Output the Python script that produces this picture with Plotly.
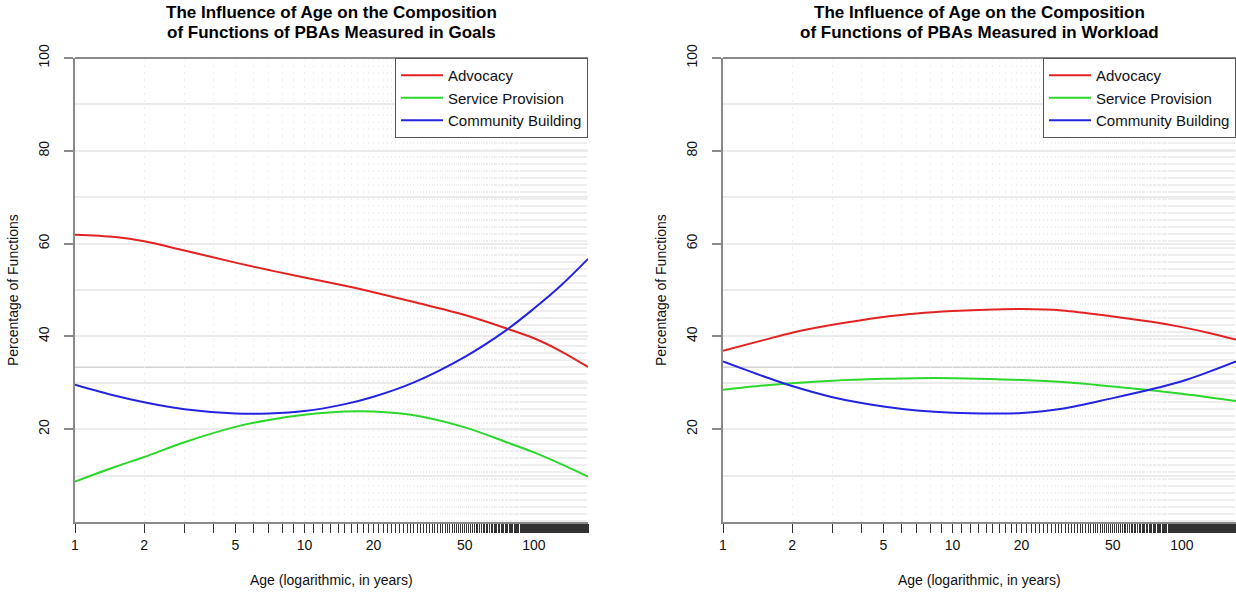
import math
import plotly.graph_objects as go

# ---- data ----
ages = [1, 1.5, 2, 3, 5, 7, 10, 15, 20, 30, 50, 75, 100, 130, 172]

goals_advocacy = [61.9, 61.4, 60.5, 58.5, 55.9, 54.3, 52.7, 50.9, 49.5, 47.4, 44.6, 41.8, 39.6, 36.9, 33.4]
goals_service = [8.7, 11.9, 14.0, 17.2, 20.5, 22.0, 23.1, 23.8, 23.8, 23.0, 20.4, 17.3, 15.0, 12.6, 9.8]
goals_community = [29.6, 27.2, 25.8, 24.3, 23.4, 23.4, 23.9, 25.4, 27.0, 30.1, 35.6, 41.2, 46.0, 50.8, 56.7]

work_advocacy = [36.9, 39.2, 40.8, 42.5, 44.2, 44.95, 45.45, 45.8, 45.9, 45.6, 44.3, 43.1, 42.0, 40.8, 39.3]
work_service = [28.5, 29.4, 29.9, 30.45, 30.85, 31.0, 31.0, 30.8, 30.6, 30.15, 29.2, 28.35, 27.65, 26.9, 26.1]
work_community = [34.6, 31.4, 29.3, 26.9, 24.9, 24.05, 23.55, 23.4, 23.5, 24.4, 26.7, 28.7, 30.35, 32.3, 34.6]

series_names = ["Advocacy", "Service Provision", "Community Building"]
series_colors = ["#e32222", "#2cd82c", "#2424e0"]

titles = [
    ["The Influence of Age on the Composition", "of Functions of PBAs Measured in Goals"],
    ["The Influence of Age on the Composition", "of Functions of PBAs Measured in Workload"],
]
x_title = "Age (logarithmic, in years)"
y_title = "Percentage of Functions"

age_max = 172
x_tick_positions = list(range(1, age_max + 1))
x_tick_labels = [1, 2, 5, 10, 20, 50, 100]
y_tick_labels = [20, 40, 60, 80, 100]
y_minor_grid = [10, 30, 50, 70, 90]
parity_level = 100 / 3

# ---- layout geometry (pixels) ----
W, H = 1236, 592
panels = [(75, 588), (723, 1236)]
top_px, bottom_px = 58, 522

FONT = "Liberation Sans, Arial, Helvetica, sans-serif"

fig = go.Figure()

panel_data = [
    [goals_advocacy, goals_service, goals_community],
    [work_advocacy, work_service, work_community],
]

for p, data in enumerate(panel_data):
    xa = "x" if p == 0 else "x2"
    ya = "y" if p == 0 else "y2"
    lg = "legend" if p == 0 else "legend2"
    for name, color, vals in zip(series_names, series_colors, data):
        fig.add_trace(go.Scatter(
            x=ages, y=vals, mode="lines", name=name,
            line=dict(color=color, width=2, shape="spline", smoothing=1.0),
            xaxis=xa, yaxis=ya, legend=lg, hoverinfo="x+y+name",
        ))

x_text = [str(v) if v in x_tick_labels else "" for v in x_tick_positions]

def xaxis_cfg(p):
    l, r = panels[p]
    return dict(
        domain=[l / W, r / W], type="log", range=[0, math.log10(age_max)],
        tickmode="array", tickvals=x_tick_positions, ticktext=x_text,
        ticks="outside", ticklen=9, tickwidth=1, tickcolor="#333333",
        showline=True, linecolor="#8a8a8a", linewidth=2,
        showgrid=True, gridcolor="#eeeeee", gridwidth=1, griddash="2px,5px",
        tickfont=dict(family=FONT, size=14, color="#111111"),
        zeroline=False, automargin=False, anchor="y" if p == 0 else "y2",
    )

def yaxis_cfg(p):
    return dict(
        domain=[1 - bottom_px / H, 1 - top_px / H], range=[0, 100],
        tickmode="array", tickvals=y_tick_labels, ticktext=[str(v) for v in y_tick_labels],
        ticks="outside", ticklen=9, tickwidth=2, tickcolor="#8a8a8a",
        showline=True, linecolor="#8a8a8a", linewidth=2, tickangle=-90,
        ticklabelstandoff=9,
        showgrid=True, gridcolor="#ebebeb", gridwidth=1.5,
        minor=dict(tickmode="array", tickvals=y_minor_grid, showgrid=True,
                   gridcolor="#ebebeb", gridwidth=1.5, ticks=""),
        tickfont=dict(family=FONT, size=14, color="#111111"),
        zeroline=False, automargin=False, anchor="x" if p == 0 else "x2",
    )

annotations = []
shapes = []
for p in range(2):
    l, r = panels[p]
    cx = (l + r) / 2 / W
    for line_text, y_px in zip(titles[p], (12, 33)):
        annotations.append(dict(
            text="<b>" + line_text + "</b>",
            x=cx, y=1 - y_px / H, xref="paper", yref="paper",
            xanchor="center", yanchor="middle", showarrow=False,
            font=dict(family=FONT, size=17, color="#000000"),
        ))
    annotations.append(dict(
        text=x_title, x=cx, y=1 - 580 / H, xref="paper", yref="paper",
        xanchor="center", yanchor="middle", showarrow=False,
        font=dict(family=FONT, size=14, color="#111111"),
    ))
    annotations.append(dict(
        text=y_title, x=(l - 62) / W, y=1 - (top_px + bottom_px) / 2 / H,
        xref="paper", yref="paper", xanchor="center", yanchor="middle",
        textangle=-90, showarrow=False,
        font=dict(family=FONT, size=14, color="#111111"),
    ))
    xd = "x domain" if p == 0 else "x2 domain"
    yd = "y domain" if p == 0 else "y2 domain"
    yy = "y" if p == 0 else "y2"
    shapes.append(dict(type="line", xref=xd, yref=yd, x0=0, x1=1, y0=1, y1=1,
                       line=dict(color="#8a8a8a", width=2), layer="above"))
    shapes.append(dict(type="line", xref=xd, yref=yy, x0=0, x1=1,
                       y0=parity_level, y1=parity_level,
                       line=dict(color="#d2d2d2", width=1.5), layer="below"))

legend_common = dict(
    xanchor="right", yanchor="top", bgcolor="white",
    bordercolor="#555555", borderwidth=1,
    font=dict(family=FONT, size=15, color="#111111"),
    tracegroupgap=0, itemwidth=42,
)

fig.update_layout(
    width=W, height=H,
    margin=dict(l=0, r=0, t=0, b=0, autoexpand=False),
    paper_bgcolor="white", plot_bgcolor="white",
    font=dict(family=FONT, size=14, color="#111111"),
    xaxis=xaxis_cfg(0), yaxis=yaxis_cfg(0),
    xaxis2=xaxis_cfg(1), yaxis2=yaxis_cfg(1),
    legend=dict(x=panels[0][1] / W, y=1 - top_px / H, **legend_common),
    legend2=dict(x=panels[1][1] / W, y=1 - top_px / H, **legend_common),
    annotations=annotations, shapes=shapes,
    showlegend=True,
)

fig.write_html(
    "out.html",
    config={"displayModeBar": False},
    post_script="document.body.style.margin='0px';document.body.style.overflow='hidden';",
)
